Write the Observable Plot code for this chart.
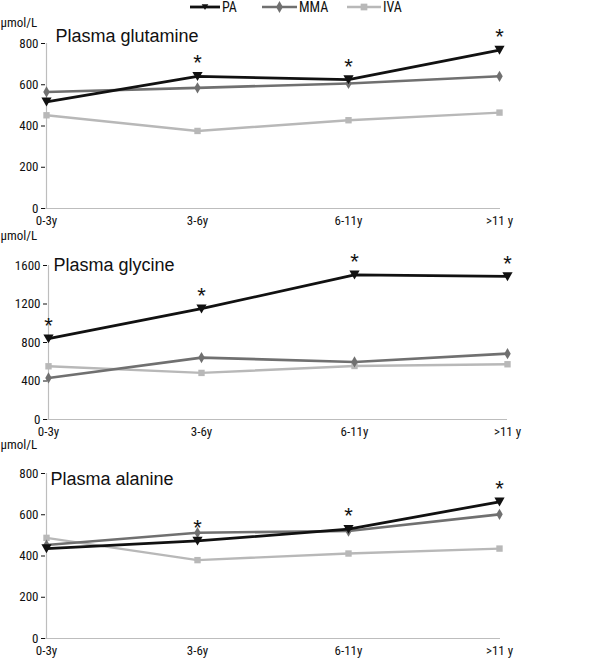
<!DOCTYPE html>
<html><head><meta charset="utf-8">
<script src="https://cdn.jsdelivr.net/npm/d3@7"></script>
<script src="https://cdn.jsdelivr.net/npm/@observablehq/plot@0.6"></script>
<style>
body{margin:0;background:#fff;font-family:"Liberation Sans",Arial,sans-serif;}
#wrap{width:600px;}
#legend{height:15px;position:relative;}
.tk{font-family:"Roboto Condensed","DejaVu Sans Condensed",sans-serif;}
.ttl{font-family:"Liberation Sans",Arial,sans-serif;}
</style></head>
<body><div id="wrap"><div id="legend"></div><div id="charts"></div></div>
<script>
const ages = ["0-3y","3-6y","6-11y",">11 y"];
const seriesNames = ["PA","MMA","IVA"];
const titles = ["Plasma glutamine","Plasma glycine","Plasma alanine"];
const glutaminePA  = [517, 641, 625, 768];
const glutamineMMA = [565, 585, 606, 641];
const glutamineIVA = [452, 376, 428, 465];
const glutamineStar = [false, true, true, true];
const glycinePA  = [840, 1151, 1503, 1486];
const glycineMMA = [432, 643, 598, 684];
const glycineIVA = [553, 484, 556, 574];
const glycineStar = [true, true, true, true];
const alaninePA  = [436, 473, 530, 663];
const alanineMMA = [453, 513, 521, 602];
const alanineIVA = [488, 380, 412, 436];
const alanineStar = [false, true, true, true];
const yTicksSmall = [0, 200, 400, 600, 800];
const yTicksLarge = [0, 400, 800, 1200, 1600];
const unit = "μmol/L";

const colors = {PA:"#111", MMA:"#707070", IVA:"#b8b8b8"};
const widths = {PA:2.8, MMA:2.6, IVA:2.4};
const triDown = {draw(ctx, size){const s=Math.sqrt(size); ctx.moveTo(-s*0.6,-s*0.5); ctx.lineTo(s*0.6,-s*0.5); ctx.lineTo(0,s*0.55); ctx.closePath();}};
const symbols = {PA: triDown, MMA: "diamond", IVA: "square"};
const sizes = {PA: 4.8, MMA: 3.4, IVA: 3.6};

const panels = [
  {title:titles[0], vals:{PA:glutaminePA, MMA:glutamineMMA, IVA:glutamineIVA}, star:glutamineStar, max:800, ticks:yTicksSmall, mt:28, fh:165, h:213, ml:45, mr:100, tdx:10, tdy:-7},
  {title:titles[1], vals:{PA:glycinePA, MMA:glycineMMA, IVA:glycineIVA}, star:glycineStar, max:1600, ticks:yTicksLarge, mt:37, fh:154, h:209, ml:47, mr:93, tdx:6, tdy:0},
  {title:titles[2], vals:{PA:alaninePA, MMA:alanineMMA, IVA:alanineIVA}, star:alanineStar, max:800, ticks:yTicksSmall, mt:36, fh:165, h:221, ml:45, mr:100, tdx:5, tdy:6}
];

const charts = document.getElementById("charts");
for (const p of panels) {
  const rows = [];
  for (const s of seriesNames) ages.forEach((a,i)=>rows.push({age:a, series:s, v:p.vals[s][i]}));
  const stars = ages.map((a,i)=>({age:a, v:p.vals.PA[i], on:p.star[i]})).filter(d=>d.on);
  const marks = [
    Plot.ruleY([0], {stroke:"#bdbdbd", strokeWidth:1.2}),
    Plot.ruleX([ages[0]], {stroke:"#bdbdbd", strokeWidth:1.2}),
  ];
  for (const s of ["IVA","MMA","PA"]) {
    const d = rows.filter(r=>r.series===s);
    marks.push(Plot.line(d, {x:"age", y:"v", stroke:colors[s], strokeWidth:widths[s]}));
    marks.push(Plot.dot(d, {x:"age", y:"v", symbol:()=>symbols[s], r:sizes[s], fill:colors[s], stroke:"none"}));
  }
  marks.push(Plot.text(stars, {x:"age", y:"v", text:()=>"*", dy:-13, fontSize:22, fill:"#111", className:"ttl"}));
  marks.push(Plot.text([p.title], {frameAnchor:"top-left", dx:p.tdx, dy:p.tdy, textAnchor:"start", lineAnchor:"middle", fontSize:18, fill:"#111", className:"ttl"}));
  marks.push(Plot.text([unit], {frameAnchor:"top-left", dx:-p.ml, dy:-p.mt+2, textAnchor:"start", lineAnchor:"top", fontSize:13, fill:"#111"}));
  const chart = Plot.plot({
    width:600, height:p.h, marginTop:p.mt, marginBottom:p.h-p.mt-p.fh, marginLeft:p.ml, marginRight:p.mr,
    style:{fontFamily:"'Roboto Condensed','DejaVu Sans Condensed',sans-serif", fontSize:"13px", color:"#111", background:"#fff", overflow:"visible"},
    x:{type:"point", domain:ages, padding:0, label:null, tickSize:0, tickPadding:7},
    y:{domain:[0,p.max], ticks:p.ticks, tickFormat:d=>String(d), label:null, tickSize:4, tickPadding:3},
    symbol:{type:"identity"},
    marks
  });
  chart.style.display = "block";
  charts.appendChild(chart);
}

// legend
const lg = d3.select("#legend").append("svg").attr("width",600).attr("height",15).style("display","block");
const items = [{s:"PA", x0:190, x1:220, tx:222},{s:"MMA", x0:262, x1:297, tx:299},{s:"IVA", x0:347, x1:381, tx:383}];
for (const it of items) {
  lg.append("line").attr("x1",it.x0).attr("x2",it.x1).attr("y1",7).attr("y2",7).attr("stroke",colors[it.s]).attr("stroke-width",widths[it.s]);
  const sym = it.s==="PA" ? triDown : it.s==="MMA" ? d3.symbolDiamond : d3.symbolSquare;
  lg.append("path").attr("d", d3.symbol(sym, it.s==="PA"?30:it.s==="MMA"?40:45)()).attr("transform",`translate(${(it.x0+it.x1)/2},7)`).attr("fill",colors[it.s]);
  lg.append("text").attr("x",it.tx).attr("y",12).attr("font-size",14).attr("class","tk").attr("fill","#111").text(it.s);
}
</script></body></html>
